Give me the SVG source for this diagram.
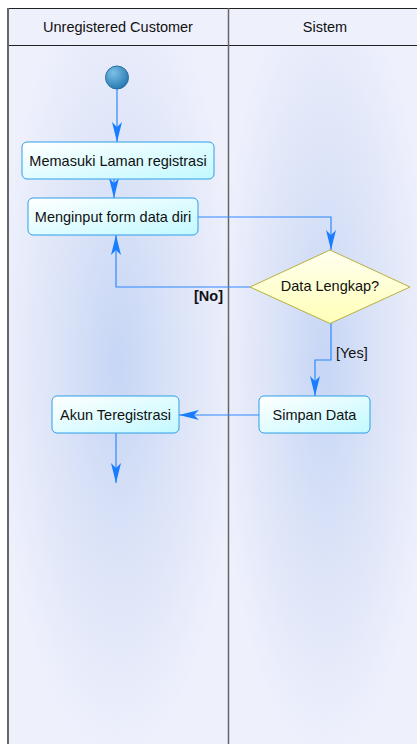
<svg xmlns="http://www.w3.org/2000/svg" width="417" height="744" viewBox="0 0 417 744">
  <defs>
    <radialGradient id="laneGlow" cx="0.5" cy="0.45" r="0.55">
      <stop offset="0" stop-color="#c6d6f5"/>
      <stop offset="0.55" stop-color="#dee5f8"/>
      <stop offset="1" stop-color="#eef0fc"/>
    </radialGradient>
    <linearGradient id="actFill" x1="0" y1="0" x2="1" y2="1">
      <stop offset="0" stop-color="#ffffff"/>
      <stop offset="1" stop-color="#c2f9ff"/>
    </linearGradient>
    <linearGradient id="decFill" x1="0" y1="0" x2="0" y2="1">
      <stop offset="0" stop-color="#fffff0"/>
      <stop offset="1" stop-color="#ffffb8"/>
    </linearGradient>
    <radialGradient id="startFill" cx="0.35" cy="0.3" r="0.75">
      <stop offset="0" stop-color="#7cc0e8"/>
      <stop offset="1" stop-color="#2577b0"/>
    </radialGradient>
    <marker id="arrow" markerUnits="userSpaceOnUse" markerWidth="20" markerHeight="10" refX="20" refY="5" orient="auto">
      <path d="M0,0 L20,5 L0,10 L5,5 Z" fill="#1a7dff"/>
    </marker>
    <style>
      .lbl { font-family: "Liberation Sans", Arial, sans-serif; font-size: 14.5px; fill: #111; text-anchor: middle; dominant-baseline: central; }
      .act { fill: url(#actFill); stroke: #2e9ee6; stroke-width: 1; }
      .edge { fill: none; stroke: #2e88ff; stroke-width: 1.2; marker-end: url(#arrow); }
      .guard { font-family: "Liberation Sans", Arial, sans-serif; font-size: 14.5px; fill: #111; }
    </style>
  </defs>

  <!-- swimlanes -->
  <g id="lanes">
    <rect x="8" y="8" width="420" height="37" fill="#eef0fc"/>
    <rect x="8" y="45" width="220" height="710" fill="url(#laneGlow)"/>
    <rect x="228" y="45" width="194" height="710" fill="url(#laneGlow)"/>
    <line x1="8" y1="8.5" x2="417" y2="8.5" stroke="#222" stroke-width="1.2"/>
    <line x1="8" y1="45.5" x2="417" y2="45.5" stroke="#222" stroke-width="1.2"/>
    <line x1="8" y1="8" x2="8" y2="744" stroke="#666" stroke-width="2"/>
    <line x1="228.5" y1="8" x2="228.5" y2="744" stroke="#666" stroke-width="1.5"/>
    <text class="lbl" x="118" y="27">Unregistered Customer</text>
    <text class="lbl" x="325" y="27">Sistem</text>
  </g>

  <!-- connectors -->
  <g id="connectors">
    <path class="edge" d="M117,89 L117,142"/>
    <path class="edge" d="M114,179 L114,198"/>
    <path class="edge" d="M198,217 L331,217 L331,250"/>
    <path class="edge" d="M250,287 L116,287 L116,235"/>
    <path class="edge" d="M331,323 L331,360 L315,360 L315,396"/>
    <path class="edge" d="M259,415 L179,415"/>
    <path class="edge" d="M116,433 L116,483"/>
    <text class="guard" x="223" y="301" font-weight="bold" text-anchor="end">[No]</text>
    <text class="guard" x="336" y="358">[Yes]</text>
  </g>

  <!-- nodes -->
  <g id="start">
    <circle cx="117" cy="77.5" r="11.5" fill="url(#startFill)" stroke="#2a6fa0" stroke-width="1"/>
  </g>
  <g id="memasuki-laman">
    <rect class="act" x="22" y="142" width="192" height="37" rx="5"/>
    <text class="lbl" x="118" y="160.5">Memasuki Laman registrasi</text>
  </g>
  <g id="menginput-form">
    <rect class="act" x="28" y="198" width="170" height="37" rx="5"/>
    <text class="lbl" x="113" y="216.5">Menginput form data diri</text>
  </g>
  <g id="data-lengkap">
    <polygon points="330,250 410,287 330,323.5 250,287" fill="url(#decFill)" stroke="#b8b040" stroke-width="1"/>
    <text class="lbl" x="330" y="286">Data Lengkap?</text>
  </g>
  <g id="simpan-data">
    <rect class="act" x="259" y="396" width="111" height="37" rx="5"/>
    <text class="lbl" x="314.5" y="414.5">Simpan Data</text>
  </g>
  <g id="akun-teregistrasi">
    <rect class="act" x="52" y="396" width="127" height="37" rx="5"/>
    <text class="lbl" x="115.5" y="414.5">Akun Teregistrasi</text>
  </g>
</svg>
